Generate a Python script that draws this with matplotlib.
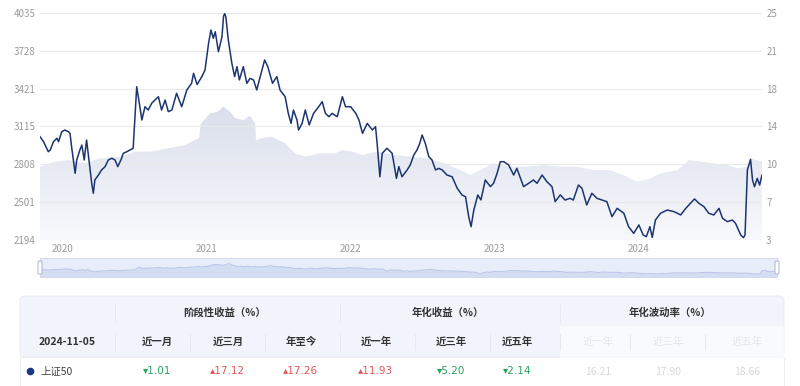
import matplotlib
matplotlib.use('Agg')
import matplotlib.pyplot as plt
import matplotlib.dates as mdates
from matplotlib.colors import LinearSegmentedColormap
from matplotlib.patches import PathPatch, Rectangle, FancyBboxPatch
import numpy as np
import pandas as pd

plt.rcParams['font.family'] = ['Noto Sans CJK SC', 'DejaVu Sans']

# 上证50 指数 (左轴)
line_dates = ['2019-11-06', '2019-11-15', '2019-11-19', '2019-11-27', '2019-12-02', '2019-12-10',
              '2019-12-19', '2019-12-23', '2019-12-31', '2020-01-08', '2020-01-17', '2020-01-21',
              '2020-01-25', '2020-02-03', '2020-02-07', '2020-02-15', '2020-02-20', '2020-02-26',
              '2020-03-03', '2020-03-07', '2020-03-12', '2020-03-16', '2020-03-20', '2020-03-24',
              '2020-04-02', '2020-04-10', '2020-04-19', '2020-04-27', '2020-05-06', '2020-05-14',
              '2020-05-21', '2020-05-29', '2020-06-04', '2020-06-13', '2020-06-21', '2020-06-29',
              '2020-07-08', '2020-07-16', '2020-07-21', '2020-07-29', '2020-08-06', '2020-08-15',
              '2020-08-23', '2020-09-01', '2020-09-09', '2020-09-18', '2020-09-26', '2020-10-05',
              '2020-10-17', '2020-10-30', '2020-11-12', '2020-11-24', '2020-11-29', '2020-12-08',
              '2020-12-20', '2020-12-28', '2021-01-06', '2021-01-12', '2021-01-18', '2021-01-23',
              '2021-01-31', '2021-02-09', '2021-02-13', '2021-02-16', '2021-02-19', '2021-02-25',
              '2021-03-06', '2021-03-13', '2021-03-19', '2021-03-25', '2021-04-04', '2021-04-13',
              '2021-04-21', '2021-04-30', '2021-05-08', '2021-05-17', '2021-05-28', '2021-06-05',
              '2021-06-17', '2021-06-28', '2021-07-06', '2021-07-19', '2021-07-27', '2021-08-03',
              '2021-08-09', '2021-08-18', '2021-08-22', '2021-08-31', '2021-09-08', '2021-09-18',
              '2021-09-29', '2021-10-12', '2021-10-21', '2021-10-29', '2021-11-07', '2021-11-15',
              '2021-11-28', '2021-12-11', '2021-12-19', '2022-01-01', '2022-01-14', '2022-01-22',
              '2022-01-31', '2022-02-12', '2022-02-25', '2022-03-05', '2022-03-09', '2022-03-16',
              '2022-03-22', '2022-04-03', '2022-04-16', '2022-04-27', '2022-05-03', '2022-05-11',
              '2022-05-24', '2022-06-01', '2022-06-10', '2022-06-18', '2022-06-25', '2022-07-01',
              '2022-07-09', '2022-07-18', '2022-07-26', '2022-08-04', '2022-08-12', '2022-08-21',
              '2022-09-02', '2022-09-15', '2022-09-28', '2022-10-10', '2022-10-19', '2022-10-27',
              '2022-11-02', '2022-11-09', '2022-11-19', '2022-11-27', '2022-12-08', '2022-12-21',
              '2022-12-29', '2023-01-07', '2023-01-15', '2023-01-24', '2023-02-05', '2023-02-18',
              '2023-02-26', '2023-03-15', '2023-03-28', '2023-04-09', '2023-04-18', '2023-05-01',
              '2023-05-13', '2023-05-26', '2023-06-03', '2023-06-16', '2023-06-28', '2023-07-11',
              '2023-07-19', '2023-08-01', '2023-08-10', '2023-08-22', '2023-09-04', '2023-09-17',
              '2023-09-30', '2023-10-12', '2023-10-25', '2023-11-07', '2023-11-24', '2023-12-06',
              '2023-12-19', '2024-01-01', '2024-01-12', '2024-01-20', '2024-01-29', '2024-02-04',
              '2024-02-12', '2024-02-25', '2024-03-13', '2024-03-30', '2024-04-16', '2024-04-29',
              '2024-05-11', '2024-05-21', '2024-06-01', '2024-06-14', '2024-06-26', '2024-07-09',
              '2024-07-22', '2024-07-31', '2024-08-12', '2024-08-25', '2024-09-02', '2024-09-15',
              '2024-09-22', '2024-09-26', '2024-10-02', '2024-10-10', '2024-10-15', '2024-10-20',
              '2024-10-27', '2024-11-02', '2024-11-08']
line_vals = [3032, 2991, 2964, 2910, 2924, 2991,
             3019, 2991, 3072, 3086, 3072, 3059,
             2951, 2735, 2843, 2924, 2964, 2843,
             3005, 2897, 2762, 2654, 2573, 2681,
             2721, 2762, 2789, 2843, 2857, 2843,
             2789, 2843, 2897, 2910, 2924, 2938,
             3437, 3275, 3167, 3275, 3248, 3303,
             3329, 3356, 3248, 3329, 3235, 3248,
             3384, 3275, 3411, 3465, 3546, 3455,
             3519, 3573, 3789, 3897, 3830, 3883,
             3721, 3843, 4010, 4030, 4000, 3816,
             3627, 3519, 3600, 3492, 3600, 3465,
             3505, 3492, 3411, 3519, 3654, 3600,
             3465, 3519, 3411, 3356, 3221, 3140,
             3248, 3167, 3086, 3140, 3248, 3127,
             3221, 3275, 3316, 3221, 3194, 3221,
             3194, 3356, 3275, 3275, 3221, 3167,
             3059, 3140, 3086, 3113, 2978, 2707,
             2897, 2938, 2897, 2694, 2789, 2707,
             2762, 2803, 2884, 2924, 2978, 3046,
             2978, 2870, 2843, 2762, 2775, 2762,
             2721, 2707, 2613, 2559, 2545, 2383,
             2302, 2437, 2559, 2519, 2681, 2627,
             2654, 2735, 2829, 2829, 2803, 2721,
             2775, 2627, 2654, 2681, 2654, 2721,
             2667, 2627, 2505, 2560, 2518, 2532,
             2518, 2640, 2613, 2478, 2573, 2532,
             2518, 2505, 2383, 2451, 2411, 2302,
             2248, 2316, 2235, 2221, 2302, 2215,
             2356, 2411, 2437, 2424, 2397, 2451,
             2492, 2527, 2492, 2464, 2411, 2397,
             2451, 2370, 2343, 2356, 2329, 2235,
             2213, 2235, 2762, 2848, 2681, 2626,
             2694, 2640, 2721]

# 右轴面积
area_dates = ['2019-11-06', '2019-12-14', '2020-01-17', '2020-02-28', '2020-04-06', '2020-05-27',
              '2020-07-04', '2020-08-15', '2020-09-26', '2020-11-08', '2020-12-03', '2020-12-13',
              '2020-12-17', '2021-01-10', '2021-01-28', '2021-02-13', '2021-03-02', '2021-03-15',
              '2021-04-04', '2021-04-21', '2021-05-04', '2021-05-06', '2021-05-24', '2021-06-15',
              '2021-07-19', '2021-08-13', '2021-09-08', '2021-10-12', '2021-11-23', '2021-12-11',
              '2022-01-05', '2022-01-31', '2022-03-09', '2022-04-21', '2022-06-01', '2022-07-14',
              '2022-08-25', '2022-10-06', '2022-10-31', '2022-11-26', '2022-12-29', '2023-02-10',
              '2023-03-24', '2023-05-05', '2023-06-16', '2023-07-28', '2023-09-08', '2023-10-20',
              '2023-12-02', '2023-12-28', '2024-01-31', '2024-02-25', '2024-04-08', '2024-05-07',
              '2024-06-06', '2024-07-09', '2024-08-12', '2024-09-07', '2024-10-02', '2024-10-10',
              '2024-11-08']
area_vals = [10.10, 10.59, 10.75, 10.43, 10.92, 11.07,
             11.56, 11.56, 11.89, 12.21, 12.69, 12.89,
             14.24, 15.28, 15.40, 15.92, 15.40, 14.79,
             14.63, 15.02, 14.31, 12.69, 12.89, 13.01,
             12.37, 11.40, 11.07, 11.40, 11.40, 11.72,
             11.56, 11.24, 11.56, 11.24, 11.07, 10.92,
             10.43, 9.78, 9.30, 9.78, 10.43, 10.10,
             10.10, 10.27, 10.10, 10.10, 9.78, 9.78,
             9.13, 8.65, 8.98, 9.46, 9.78, 10.75,
             10.59, 10.43, 10.27, 9.95, 10.10, 10.92,
             10.59]

left_ticks = ['2194', '2501', '2808', '3115', '3421', '3728', '4035']
right_ticks = ['3', '7', '10', '14', '18', '21', '25']

# 表格
group_titles = ['阶段性收益（%）', '年化收益（%）', '年化波动率（%）']
col_titles = ['近一月', '近三月', '年至今', '近一年', '近三年', '近五年']
ret_vals = [-1.01, 17.12, 17.26, 11.93, -5.20, -2.14]
vol_titles = ['近一年', '近三年', '近五年']
vol_vals = ['16.21', '17.90', '18.66']
table_date = '2024-11-05'
index_name = '上证50'

ld = pd.to_datetime(line_dates)
ad = pd.to_datetime(area_dates)

W, H = 800, 386
fig = plt.figure(figsize=(8, 3.86), dpi=100)


def fx(x):
    return x / W


def fy(y):
    return 1 - y / H


ax = fig.add_axes([fx(40), fy(240), (762 - 40) / W, (240 - 13) / H])
ax2 = ax.twinx()

# 面积 - 渐变填充
poly = ax2.fill_between(ad, area_vals, 3, color='none', lw=0)
path = poly.get_paths()[0]
patch = PathPatch(path, transform=ax2.transData, facecolor='none', edgecolor='none')
ax2.add_patch(patch)
x0, x1 = mdates.date2num(ad[0]), mdates.date2num(ad[-1])
cmap = LinearSegmentedColormap.from_list('g', ['#f8f9fc', '#c4cce0'])
grad = np.linspace(0, 1, 256).reshape(-1, 1)
im = ax2.imshow(grad, extent=[x0, x1, 3, 25], origin='lower', aspect='auto', cmap=cmap, zorder=1)
im.set_clip_path(patch)
ax2.set_ylim(3, 25)
ax2.set_yticks(np.linspace(3, 25, 7))
ax2.set_yticklabels(right_ticks)

ax.plot(ld, line_vals, color='#1c3470', lw=1.1, zorder=3)
ax.set_ylim(2194, 4035)
ax.set_yticks(np.linspace(2194, 4035, 7))
ax.set_yticklabels(left_ticks)
ax.set_xlim(x0, x1)
ax2.set_xlim(x0, x1)
ax.xaxis.set_major_locator(mdates.YearLocator())
ax.xaxis.set_major_formatter(mdates.DateFormatter('%Y'))
ax.grid(axis='y', color='#e9e9e9', lw=0.8)
ax.set_zorder(ax2.get_zorder() + 1)
ax.patch.set_visible(False)

for a in (ax, ax2):
    for s in a.spines.values():
        s.set_visible(False)
    a.tick_params(length=0, labelsize=7, colors='#9a9a9a', pad=3)

# 缩放条
sx = fig.add_axes([fx(40), fy(277), (777 - 40) / W, 19 / H])
sx.set_facecolor('#e8eef9')
sx.fill_between(ld, line_vals, 1700, color='#d4def3', lw=0)
sx.plot(ld, line_vals, color='#b9c8ea', lw=0.8)
sx.set_xlim(x0, x1)
sx.set_ylim(1700, 5035)
sx.set_xticks([])
sx.set_yticks([])
for s in sx.spines.values():
    s.set_color('#d3dbec')
    s.set_linewidth(0.8)
for hx in (40, 777):
    fig.patches.append(FancyBboxPatch((fx(hx - 2), fy(274)), 4 / W, 13 / H,
                                      boxstyle='round,pad=0,rounding_size=0.002',
                                      transform=fig.transFigure, facecolor='white',
                                      edgecolor='#a9b4c8', lw=0.7))

# 表格背景
fig.patches.append(FancyBboxPatch((fx(20), fy(357)), 764 / W, 61 / H,
                                  boxstyle='round,pad=0,rounding_size=0.008',
                                  transform=fig.transFigure, facecolor='#f1f4fa',
                                  edgecolor='#e6eaf2', lw=0.6))
fig.patches.append(Rectangle((fx(20), fy(386)), 764 / W, 29 / H, transform=fig.transFigure,
                             facecolor='white', edgecolor='#e8ebf1', lw=0.6))
# 右侧淡出遮罩
fig.patches.append(Rectangle((fx(560), fy(386)), 224 / W, 60 / H, transform=fig.transFigure,
                             facecolor='white', edgecolor='none', alpha=0.6))

for sxp in (115, 340, 560):
    fig.add_artist(plt.Line2D([fx(sxp), fx(sxp)], [fy(304), fy(322)], color='#e2e6ee', lw=0.6))
for sxp in (115, 190, 265, 340, 415, 490, 560, 630, 705):
    fig.add_artist(plt.Line2D([fx(sxp), fx(sxp)], [fy(334), fy(350)], color='#e2e6ee', lw=0.6))

head_kw = dict(fontsize=7.5, color='#333333', ha='center', va='center', fontweight='bold')
for t, x in zip(group_titles, (225, 448, 670)):
    fig.text(fx(x), fy(313), t, **head_kw)
fig.text(fx(67), fy(342), table_date, **head_kw)
col_x = [157, 228, 301, 376, 451, 517]
for t, x in zip(col_titles, col_x):
    fig.text(fx(x), fy(342), t, **head_kw)
vol_x = [598, 668, 747]
for t, x in zip(vol_titles, vol_x):
    fig.text(fx(x), fy(342), t, fontsize=7.5, color='#e6e6e6', ha='center', va='center')

fig.add_artist(plt.Line2D([fx(30)], [fy(371)], marker='o', ms=4.5, color='#1d3585', lw=0))
fig.text(fx(40), fy(371), index_name, fontsize=7.5, color='#444444', ha='left', va='center')
for v, x in zip(ret_vals, col_x):
    if v < 0:
        s, c = '▾' + f'{abs(v):.2f}', '#27a35f'
    else:
        s, c = '▴' + f'{v:.2f}', '#e0575a'
    fig.text(fx(x), fy(371), s, fontsize=7.5, color=c, ha='center', va='center',
             family=['DejaVu Sans'])
for v, x in zip(vol_vals, vol_x):
    fig.text(fx(x), fy(372), v, fontsize=7.5, color='#d8d8d8', ha='center', va='center')

fig.savefig('out.png', dpi=100)
